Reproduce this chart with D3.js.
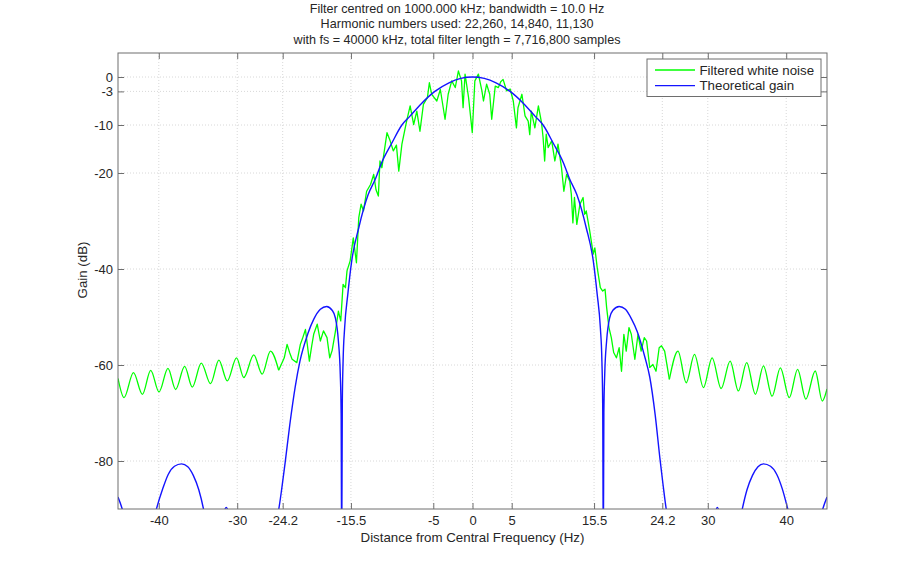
<!DOCTYPE html>
<html>
<head>
<meta charset="utf-8">
<script src="https://cdn.jsdelivr.net/npm/d3@7"></script>
<style>
  body { margin: 0; background: #fff; }
  text { font-family: "Liberation Sans", Arial, sans-serif; fill: #262626; }
</style>
</head>
<body>
<div id="chart"></div>
<script>
// chart data (Hz, dB)
const titleLines = [
  "Filter centred on 1000.000 kHz; bandwidth = 10.0 Hz",
  "Harmonic numbers used: 22,260, 14,840, 11,130",
  "with fs = 40000 kHz, total filter length = 7,716,800 samples"
];
const xTicks = [-40, -30, -24.2, -15.5, -5, 0, 5, 15.5, 24.2, 30, 40];
const yTicks = [0, -3, -10, -20, -40, -60, -80];
const xDomain = [-45.2, 45.2];
const yDomain = [-90, 5];
const seriesNames = ["Filtered white noise", "Theoretical gain"];

// filtered noise: ripple on the left, noisy passband, ripple on the right
const noiseLeft = [
  [-45.2, -62.8], [-44.43, -66.8], [-43.23, -61.6], [-42.09, -66.1], [-41.03, -61.1],
  [-39.97, -65.6], [-38.83, -60.7], [-37.85, -65.1], [-36.70, -60.3], [-35.73, -64.6],
  [-34.58, -59.6], [-33.40, -63.9], [-32.34, -59.0], [-31.27, -63.3], [-30.09, -58.5],
  [-29.16, -62.6], [-27.89, -57.9], [-26.82, -61.9], [-25.76, -57.1], [-24.71, -61.1]
];
const noiseCentre = [
  [-24.71, -61.1], [-24.0, -58.5], [-23.64, -55.7], [-23.3, -57.5], [-23.0, -58.8], [-22.4, -59.5],
  [-21.95, -55.7], [-21.7, -54.6], [-21.3, -52.6], [-20.8, -59.2], [-20.5, -56.0], [-20.25, -53.6],
  [-19.8, -51.5], [-19.4, -55.0], [-19.0, -52.9], [-18.55, -54.3], [-18.2, -58.5], [-17.9, -57.0],
  [-17.5, -53.2], [-17.1, -48.8], [-16.8, -50.8], [-16.5, -43.2], [-16.2, -43.9], [-16.0, -40.4],
  [-15.6, -38.3], [-15.2, -33.5], [-14.8, -38.7], [-14.5, -29.3], [-14.2, -26.5], [-13.9, -27.9],
  [-13.5, -23.8], [-13.0, -22.4], [-12.6, -20.3], [-12.3, -23.5], [-12.0, -24.8], [-11.8, -17.5],
  [-11.55, -18.9], [-11.3, -16.0], [-10.9, -11.6], [-10.5, -13.3], [-10.1, -15.4], [-9.7, -14.2],
  [-9.4, -19.6], [-9.0, -14.0], [-8.4, -9.2], [-7.95, -6.0], [-7.5, -9.9], [-7.1, -7.1],
  [-6.7, -11.3], [-6.26, -5.7], [-5.75, -4.3], [-5.5, -1.2], [-5.2, -3.6], [-4.55, -5.0],
  [-4.1, -2.6], [-3.5, -8.8], [-3.1, -3.6], [-2.65, -0.8], [-2.2, -2.2], [-1.8, 1.25],
  [-1.4, -0.8], [-1.2, -6.4], [-0.95, 0.6], [-0.5, -4.3], [-0.03, -11.6], [0.3, -0.8], [0.75, 0.6],
  [1.2, -2.9], [1.4, -5.0], [1.8, -1.5], [2.2, -3.6], [2.45, -8.8], [2.9, -1.9],
  [3.3, -2.2], [3.6, -1.0], [3.9, -0.5], [4.35, -2.9], [4.8, -2.5], [5.2, -5.0],
  [5.6, -10.6], [5.8, -6.4], [6.3, -3.6], [6.7, -8.1], [7.1, -9.2], [7.3, -12.0], [7.5, -7.1],
  [7.95, -10.6], [8.4, -6.0], [8.8, -9.5], [9.0, -12.6], [9.2, -17.5], [9.4, -11.9],
  [9.65, -14.7], [10.1, -13.3], [10.5, -17.5], [10.9, -14.0], [11.35, -18.9], [11.65, -23.8],
  [12.0, -20.3], [12.4, -21.7], [12.6, -24.4], [12.8, -30.4], [13.0, -25.1], [13.3, -30.7],
  [13.7, -26.5], [14.1, -25.1], [14.3, -28.6], [14.5, -27.9], [14.95, -32.1], [15.4, -36.9],
  [15.6, -35.6], [15.9, -39.7], [16.1, -41.8], [16.3, -43.9], [16.6, -44.6], [16.9, -44.2],
  [17.1, -48.0], [17.4, -52.2], [17.7, -54.3], [18.0, -57.4], [18.35, -58.5], [18.7, -56.4],
  [19.0, -61.3], [19.3, -53.6], [19.6, -57.1], [19.95, -52.2], [20.25, -53.6], [20.7, -58.8],
  [21.1, -53.6], [21.5, -57.1], [21.9, -54.3], [22.2, -55.0], [22.6, -60.5], [23.0, -59.9],
  [23.4, -61.3], [23.8, -56.4], [24.1, -56.0], [24.5, -57.1], [25.1, -63.0]
];
const noiseRight = [
  [25.1, -63.0], [26.2, -57.1], [27.25, -63.7], [28.3, -57.8], [29.45, -64.7], [30.55, -58.5],
  [31.7, -64.9], [32.85, -59.2], [33.9, -65.4], [34.96, -59.5], [36.07, -66.1], [37.1, -60.2],
  [38.2, -66.5], [39.25, -60.6], [40.4, -66.8], [41.45, -60.9], [42.5, -67.1], [43.7, -61.25],
  [44.6, -67.5], [45.2, -65.0]
];

// theoretical gain (values under -90 dB fall outside the axes)
const theoryGain = [
  [-45.2, -87.5], [-44.7, -89.8], [-44.2, -93], [-43.2, -104], [-42.3, -108], [-41.3, -97],
  [-40.3, -90], [-39.5, -85.8], [-38.8, -82.8], [-38.0, -81.1], [-37.1, -80.6], [-36.3, -81.2],
  [-35.6, -83.0], [-34.9, -86.0], [-34.3, -90], [-33.6, -97], [-32.9, -100], [-32.1, -93],
  [-31.4, -89.7], [-30.7, -93], [-29.6, -104], [-28.0, -112], [-26.5, -100], [-25.3, -93.5],
  [-24.7, -90], [-24.3, -85.5], [-23.9, -80.5], [-23.3, -72.5], [-22.6, -64.5], [-22.0, -59.2],
  [-21.0, -53.5], [-20.25, -50.5], [-19.4, -48.4], [-18.6, -47.8], [-17.9, -48.6], [-17.5, -50.1],
  [-17.1, -55.0], [-16.86, -61.9], [-16.75, -70], [-16.68, -100], [-16.6, -68], [-16.5, -59.2],
  [-16.3, -52.2], [-15.9, -45.3], [-15.4, -38.3], [-14.5, -31.4], [-13.3, -24.5], [-12.4, -21.3],
  [-11.6, -17.9], [-10.3, -13.8], [-9.0, -10.0], [-8.0, -8.2], [-6.5, -5.5], [-4.8, -3.0],
  [-3.0, -1.2], [-1.5, -0.3], [0, 0],
  [1.5, -0.3], [3.0, -1.2], [4.8, -3.0], [6.5, -5.5], [8.0, -8.2], [9.0, -10.0],
  [10.3, -13.8], [11.6, -17.9], [12.4, -21.3], [13.3, -24.5], [14.5, -31.4], [15.4, -38.3],
  [15.9, -45.3], [16.3, -52.2], [16.5, -59.2], [16.6, -68], [16.68, -100], [16.75, -70],
  [16.86, -61.9], [17.1, -55.0], [17.5, -50.1], [17.9, -48.6], [18.7, -47.8], [19.5, -48.4],
  [20.3, -50.5], [21.0, -53.0], [22.0, -58.5], [22.6, -62.5], [23.3, -70.5], [23.9, -79.5],
  [24.3, -85], [24.7, -90], [25.3, -93.5], [26.5, -100], [28.0, -112], [29.6, -104],
  [30.7, -93], [31.2, -89.7], [31.9, -93], [32.9, -100], [33.6, -97], [34.4, -90],
  [35.0, -86.0], [35.7, -83.0], [36.4, -81.2], [37.1, -80.6], [38.0, -81.1], [38.8, -82.8],
  [39.5, -85.8], [40.2, -90], [41.3, -97], [42.3, -108], [43.2, -104], [44.2, -93],
  [44.7, -89.8], [45.2, -87.5]
];

const W = 914, H = 572;
const margin = { top: 53, right: 87, bottom: 63, left: 118 };
const width = W - margin.left - margin.right;
const height = H - margin.top - margin.bottom;

const svg = d3.select("#chart").append("svg")
  .attr("width", W)
  .attr("height", H);

// title
svg.append("g").selectAll("text")
  .data(titleLines)
  .enter().append("text")
  .attr("x", W / 2)
  .attr("y", (d, i) => 12.5 + i * 15.5)
  .attr("text-anchor", "middle")
  .style("font-size", "12.6px")
  .text(d => d);

const g = svg.append("g").attr("transform", `translate(${margin.left},${margin.top})`);

const x = d3.scaleLinear().domain(xDomain).range([0, width]);
const y = d3.scaleLinear().domain(yDomain).range([height, 0]);

// grid
g.append("g").selectAll("line")
  .data(xTicks).enter().append("line")
  .attr("x1", d => x(d)).attr("x2", d => x(d))
  .attr("y1", 0).attr("y2", height)
  .attr("stroke", "#d8d8d8").attr("stroke-dasharray", "1,2");
g.append("g").selectAll("line")
  .data(yTicks).enter().append("line")
  .attr("x1", 0).attr("x2", width)
  .attr("y1", d => y(d)).attr("y2", d => y(d))
  .attr("stroke", "#d8d8d8").attr("stroke-dasharray", "1,2");

g.append("clipPath").attr("id", "plot-clip")
  .append("rect").attr("width", width).attr("height", height);

const plot = g.append("g").attr("clip-path", "url(#plot-clip)");

const rippleLine = d3.line().x(d => x(d[0])).y(d => y(d[1])).curve(d3.curveMonotoneX);
const noisyLine = d3.line().x(d => x(d[0])).y(d => y(d[1]));

[noiseLeft, noiseRight].forEach(part => {
  plot.append("path").datum(part)
    .attr("fill", "none").attr("stroke", "#00ff00").attr("stroke-width", 1.3)
    .attr("d", rippleLine);
});
plot.append("path").datum(noiseCentre)
  .attr("fill", "none").attr("stroke", "#00ff00").attr("stroke-width", 1.3)
  .attr("stroke-linejoin", "round")
  .attr("d", noisyLine);

plot.append("path").datum(theoryGain)
  .attr("fill", "none").attr("stroke", "#1414ff").attr("stroke-width", 1.4)
  .attr("d", rippleLine);

// axes, ticks pointing inward on all four sides
const axisColour = "#6e6e6e";
const fmt = d => String(d);

const xAxis = g.append("g").attr("transform", `translate(0,${height})`)
  .call(d3.axisBottom(x).tickValues(xTicks).tickFormat(fmt).tickSizeInner(-6).tickSizeOuter(0).tickPadding(7));
const xTop = g.append("g")
  .call(d3.axisTop(x).tickValues(xTicks).tickFormat("").tickSizeInner(-6).tickSizeOuter(0));
const yAxis = g.append("g")
  .call(d3.axisLeft(y).tickValues(yTicks).tickFormat(fmt).tickSizeInner(-6).tickSizeOuter(0).tickPadding(5));
const yRight = g.append("g").attr("transform", `translate(${width},0)`)
  .call(d3.axisRight(y).tickValues(yTicks).tickFormat("").tickSizeInner(-6).tickSizeOuter(0));

[xAxis, xTop, yAxis, yRight].forEach(a => {
  a.select(".domain").remove();
  a.selectAll(".tick line").attr("stroke", axisColour);
  a.selectAll(".tick text")
    .style("font-size", "13px")
    .style("font-family", "'Liberation Sans', Arial, sans-serif")
    .attr("fill", "#262626");
});

g.append("rect")
  .attr("width", width).attr("height", height)
  .attr("fill", "none").attr("stroke", axisColour).attr("stroke-width", 1);

// axis labels
g.append("text")
  .attr("x", width / 2).attr("y", height + 33)
  .attr("text-anchor", "middle")
  .style("font-size", "13.3px")
  .text("Distance from Central Frequency (Hz)");

g.append("text")
  .attr("transform", `translate(${-31},${height / 2 - 11}) rotate(-90)`)
  .attr("text-anchor", "middle")
  .style("font-size", "13.3px")
  .text("Gain (dB)");

// legend
const legend = g.append("g").attr("transform", `translate(${width - 180},6)`);
legend.append("rect")
  .attr("width", 174).attr("height", 37.5)
  .attr("fill", "#fff").attr("stroke", axisColour);
const legendColours = ["#00ff00", "#1414ff"];
seriesNames.forEach((name, i) => {
  const row = legend.append("g").attr("transform", `translate(0,${11 + i * 15.7})`);
  row.append("line")
    .attr("x1", 8).attr("x2", 48)
    .attr("stroke", legendColours[i]).attr("stroke-width", 1.3);
  row.append("text")
    .attr("x", 52.5).attr("y", 4.6)
    .style("font-size", "13.3px")
    .text(name);
});
</script>
</body>
</html>
